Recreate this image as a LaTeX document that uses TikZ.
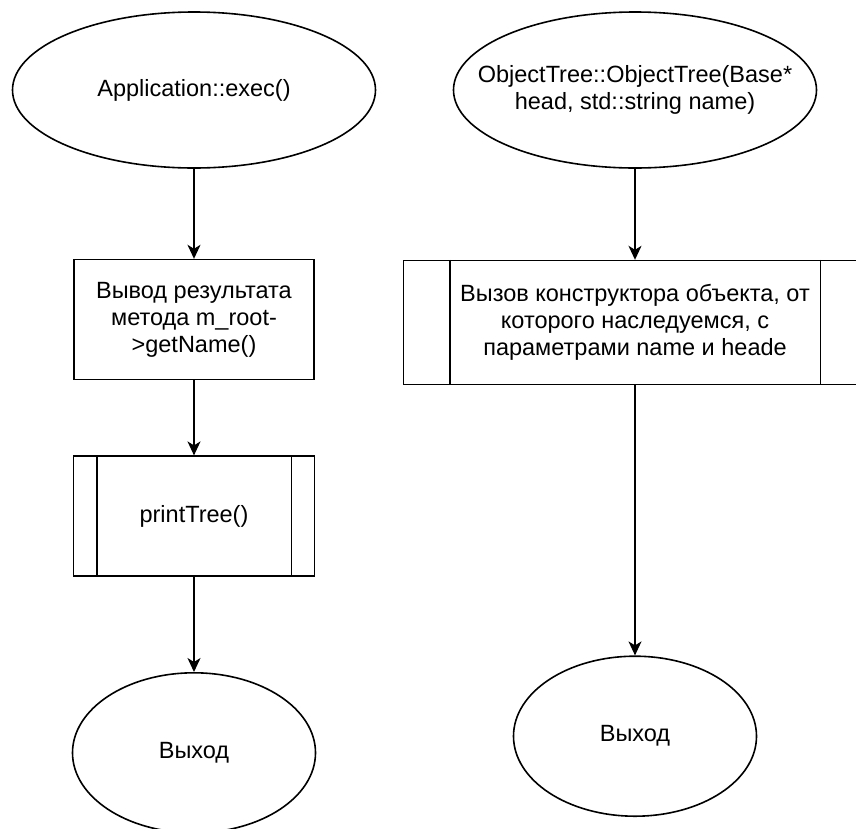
\documentclass[tikz,border=0pt]{standalone}
\usepackage{fontspec}
\setmainfont{Liberation Sans}
\usetikzlibrary{positioning,arrows.meta,shapes.geometric}

\tikzset{
  base/.style={draw,inner sep=0pt,align=center,font=\fontsize{23.5}{27}\selectfont},
  term/.style={base,ellipse},
  proc/.style={base,rectangle,minimum width=240pt,minimum height=120pt},
  subproc/.style={base,rectangle},
  flow/.style={->},
}

\begin{document}
\begin{tikzpicture}[>={Stealth[length=14pt,width=13pt,inset=4pt]},x=1pt,y=-1pt,line width=1.6pt]
\useasboundingbox (0,0) rectangle (856,828);
% left column
\node[term,minimum width=363pt,minimum height=156pt] (app) at (194,90) {Application::exec()};
\node[proc] (out) [below=90pt of app] {Вывод результата\\метода m\_root-\\>getName()};
\node[subproc,minimum width=241pt,minimum height=120pt] (tree) [below=75pt of out] {printTree()};
\node[term,minimum width=243pt,minimum height=160pt] (exitl) [below=95pt of tree] {Выход};
\draw ([xshift=24pt]tree.north west) -- ([xshift=24pt]tree.south west);
\draw ([xshift=-24pt]tree.north east) -- ([xshift=-24pt]tree.south east);
\draw[flow] (app) -- (out);
\draw[flow] (out) -- (tree);
\draw[flow] (tree) -- (exitl);
% right column
\node[term,minimum width=363pt,minimum height=156pt,inner xsep=-30pt] (ctor) at (635,90) {ObjectTree::ObjectTree(Base*\\head, std::string name)};
\node[subproc,minimum width=463pt,minimum height=124pt] (parent) [below=91pt of ctor] {Вызов конструктора объекта, от\\которого наследуемся, с\\параметрами name и heade};
\node[term,minimum width=243pt,minimum height=160pt] (exitr) [below=270pt of parent] {Выход};
\draw ([xshift=47pt]parent.north west) -- ([xshift=47pt]parent.south west);
\draw ([xshift=-47pt]parent.north east) -- ([xshift=-47pt]parent.south east);
\draw[flow] (ctor) -- (parent);
\draw[flow] (parent) -- (exitr);
\end{tikzpicture}
\end{document}
